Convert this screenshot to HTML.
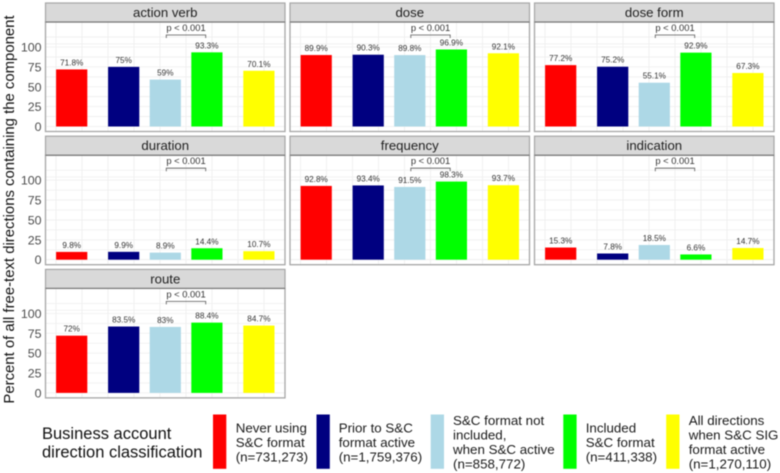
<!DOCTYPE html>
<html lang="en">
<head>
<meta charset="utf-8">
<title>Free-text direction components</title>
<style>
html,body{margin:0;padding:0;background:#fff;}
body{width:780px;height:473px;overflow:hidden;}
svg{display:block;font-family:"Liberation Sans",sans-serif;filter:blur(0.45px);}
</style>
</head>
<body>
<svg id="chart" width="780" height="473" viewBox="0 0 780 473" xmlns="http://www.w3.org/2000/svg">
  <text transform="translate(14,209.5) rotate(-90)" text-anchor="middle" font-size="14.9" fill="#111">Percent of all free-text directions containing the component</text>
  <g id="panels"></g>
  <g>
    <text x="42" font-size="16.5" fill="#111"><tspan x="42" y="439">Business account</tspan><tspan x="42" y="457.5">direction classification</tspan></text>
    <rect x="213" y="414.5" width="13.3" height="54.3" fill="#ff0000"/>
    <text font-size="13.35" fill="#1a1a1a"><tspan x="235.7" y="432.7">Never using</tspan><tspan x="235.7" y="447">S&amp;C format</tspan><tspan x="235.7" y="461.5">(n=731,273)</tspan></text>
    <rect x="316.5" y="414.5" width="13.3" height="54.3" fill="#000080"/>
    <text font-size="13.35" fill="#1a1a1a"><tspan x="338.7" y="432.7">Prior to S&amp;C</tspan><tspan x="338.7" y="447">format active</tspan><tspan x="338.7" y="461.5">(n=1,759,376)</tspan></text>
    <rect x="430.7" y="414.5" width="13.3" height="54.3" fill="#add8e6"/>
    <text font-size="13.35" fill="#1a1a1a"><tspan x="453" y="425">S&amp;C format not</tspan><tspan x="453" y="439.5">included,</tspan><tspan x="453" y="454">when S&amp;C active</tspan><tspan x="453" y="468.7">(n=858,772)</tspan></text>
    <rect x="563.3" y="414.5" width="13.3" height="54.3" fill="#00ff00"/>
    <text font-size="13.35" fill="#1a1a1a"><tspan x="585.7" y="432.7">Included</tspan><tspan x="585.7" y="447">S&amp;C format</tspan><tspan x="585.7" y="461.5">(n=411,338)</tspan></text>
    <rect x="666.2" y="414.5" width="13.3" height="54.3" fill="#ffff00"/>
    <text font-size="13.35" fill="#1a1a1a"><tspan x="688.7" y="425">All directions</tspan><tspan x="688.7" y="439.5">when S&amp;C SIG</tspan><tspan x="688.7" y="454">format active</tspan><tspan x="688.7" y="468.7">(n=1,270,110)</tspan></text>
  </g>
</svg>
<script>
const components = ["action verb", "dose", "dose form", "duration", "frequency", "indication", "route"];
const groupNames = ["never-using", "prior-to-active", "not-included", "included", "all-directions"];
const groupColors = ["#ff0000", "#000080", "#add8e6", "#00ff00", "#ffff00"];
const actionVerbValues = [71.8, 75, 59, 93.3, 70.1];
const doseValues = [89.9, 90.3, 89.8, 96.9, 92.1];
const doseFormValues = [77.2, 75.2, 55.1, 92.9, 67.3];
const durationValues = [9.8, 9.9, 8.9, 14.4, 10.7];
const frequencyValues = [92.8, 93.4, 91.5, 98.3, 93.7];
const indicationValues = [15.3, 7.8, 18.5, 6.6, 14.7];
const routeValues = [72, 83.5, 83, 88.4, 84.7];
const yTickValues = [0, 25, 50, 75, 100];
const pValueLabel = "p < 0.001";

const seriesByComponent = [actionVerbValues, doseValues, doseFormValues, durationValues, frequencyValues, indicationValues, routeValues];
const NS = "http://www.w3.org/2000/svg";
const root = document.getElementById("panels");

function make(tag, parent, attrs, text) {
  const el = document.createElementNS(NS, tag);
  for (const k in attrs) el.setAttribute(k, attrs[k]);
  if (text !== undefined) el.textContent = text;
  parent.appendChild(el);
  return el;
}
function panelLeft(col) { return 45.5 + col * 244.5; }
function panelTop(row) { return 3 + row * 133.2; }
function slot(i) {
  if (i < 2) return 1 + i;
  return 2.8 + (i - 2) * 0.8 + (i === 4 ? 0.2 : 0);
}
function xScale(col, s) { return panelLeft(col) + 26.2 + (s - 1) * 52; }
function yScale(row, v) { return panelTop(row) + 123.5 - v * 0.795; }
function kebab(s) { return s.replace(/\s+/g, "-"); }

components.forEach(function (name, idx) {
  const col = idx % 3;
  const row = Math.floor(idx / 3);
  const L = panelLeft(col), T = panelTop(row), W = 239.5;
  const key = kebab(name);
  const values = seriesByComponent[idx];

  const g = make("g", root, {});
  
  

  const bg = make("rect", g, { x: L, y: T + 19, width: W, height: 109.5, fill: "#fff" });
  
  

  const grid = make("g", g, { stroke: "#eeeeee", "stroke-width": 0.8 });
  
  
  for (let k = 0; k < 9; k++) {
    const gx = L + 10.5 + k * 26;
    const vl = make("line", grid, { x1: gx, x2: gx, y1: T + 19, y2: T + 128.5 });
    
    
  }
  for (let k = 0; k <= 9; k++) {
    const gy = yScale(row, k * 12.5);
    const hl = make("line", grid, { x1: L, x2: L + W, y1: gy, y2: gy });
    
    
  }
  const topLine = make("line", grid, { x1: L, x2: L + W, y1: yScale(row, 104), y2: yScale(row, 104) });
  
  

  values.forEach(function (v, i) {
    const cx = xScale(col, slot(i));
    const top = yScale(row, v);
    const bar = make("rect", g, { x: cx - 15.6, y: top, width: 31.2, height: yScale(row, 0) - top, fill: groupColors[i] });
    
    
    const lab = make("text", g, { x: cx, y: top - 4, "text-anchor": "middle", "font-size": 8.2, fill: "#333" }, v + "%");
    
    
  });

  const bx1 = xScale(col, slot(2)) + 1;
  const bx2 = xScale(col, slot(3)) - 1.2;
  const by = T + 32;
  const bracket = make("path", g, { d: "M" + bx1 + " " + (by + 3) + "V" + by + "H" + bx2 + "V" + (by + 3), fill: "none", stroke: "#555", "stroke-width": 0.8 });
  
  
  const pText = make("text", g, { x: (bx1 + bx2) / 2, y: by - 4, "text-anchor": "middle", "font-size": 9.4, fill: "#333" }, pValueLabel);
  
  

  const border = make("rect", g, { x: L, y: T + 19, width: W, height: 109.5, fill: "none", stroke: "#a6a6a6", "stroke-width": 1.3 });
  
  

  const strip = make("rect", g, { x: L, y: T, width: W, height: 19, fill: "#d9d9d9", stroke: "#a6a6a6", "stroke-width": 1.2 });
  
  
  const stripRule = make("line", g, { x1: L, x2: L + W, y1: T + 19, y2: T + 19, stroke: "#707070", "stroke-width": 1 });
  
  
  const stripLabel = make("text", g, { x: L + W / 2, y: T + 14, "text-anchor": "middle", "font-size": 13.2, fill: "#222" }, name);
  
  

  if (col === 0) {
    yTickValues.forEach(function (t) {
      const tick = make("text", g, { x: L - 4, y: yScale(row, t) + 4.5, "text-anchor": "end", "font-size": 12.4, fill: "#4d4d4d" }, t);
      
      
    });
  }
});
</script>
</body>
</html>
